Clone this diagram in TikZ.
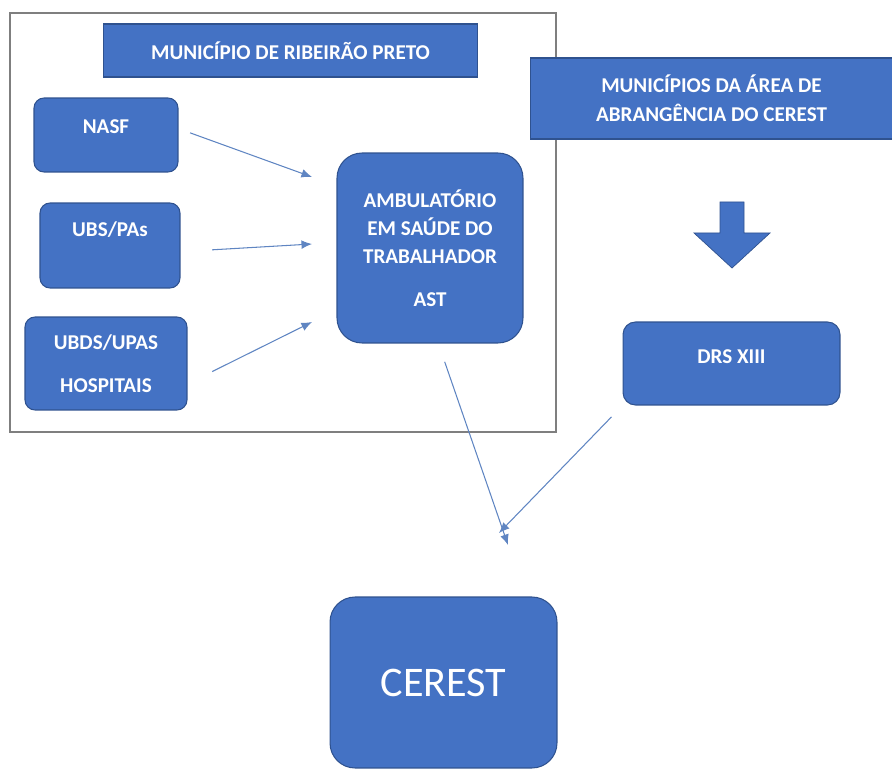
\documentclass[tikz,border=0pt]{standalone}
\usepackage{fontspec}
\setmainfont{Carlito}
\usetikzlibrary{arrows.meta}
\definecolor{boxblue}{HTML}{4472C4}
\definecolor{boxedge}{HTML}{2F528F}
\definecolor{linkblue}{HTML}{5F85C2}
\definecolor{framegray}{HTML}{7F7F7F}

\begin{document}
\begin{tikzpicture}[x=0.02cm,y=-0.02cm,>={Latex[length=6pt,width=5pt]},
  box/.style={draw=boxedge,line width=0.6pt,fill=boxblue,text=white,align=center,
    rounded corners=#1,font=\bfseries\fontsize{12}{16}\selectfont},
  box/.default=0.2cm,
  banner/.style={draw=boxedge,line width=0.6pt,fill=boxblue,text=white,align=center,
    font=\bfseries\fontsize{12}{16.5}\selectfont},
  flow/.style={->,draw=linkblue,line width=0.6pt}]
\useasboundingbox (0,0) rectangle (892,770);

\draw[framegray,line width=0.8pt] (10,13) rectangle (556,432);

\node[banner,minimum width=7.5cm,minimum height=1.06cm] (munrp) at (290.5,50.5) {MUNICÍPIO DE RIBEIRÃO PRETO};
\node[banner,minimum width=7.26cm,minimum height=1.62cm] (region) at (711.5,98.5) {MUNICÍPIOS DA ÁREA DE\\ABRANGÊNCIA DO CEREST};

\node[box,minimum width=2.88cm,minimum height=1.48cm,text height=7.7pt,text depth=9.3pt] (nasf) at (106,135) {NASF};
\node[box,minimum width=2.8cm,minimum height=1.7cm,text height=7.7pt,text depth=17.6pt] (ubs) at (110,245.5) {UBS/PAs};
\node[box,minimum width=3.24cm,minimum height=1.86cm,font=\bfseries\fontsize{12}{24.5}\selectfont] (ubds) at (106,363.5) {UBDS/UPAS\\HOSPITAIS};
\node[box=0.5cm,minimum width=3.72cm,minimum height=3.8cm] (ast) at (430,248) {AMBULATÓRIO\\EM SAÚDE DO\\TRABALHADOR\\[8.5pt]AST};
\node[box=0.25cm,minimum width=4.34cm,minimum height=1.66cm,text height=7.7pt,text depth=7.7pt] (drs) at (731.5,363.5) {DRS XIII};
\node[box=0.5cm,minimum width=4.54cm,minimum height=3.42cm,font=\fontsize{24}{28}\selectfont] (cerest) at (443.5,682.5) {CEREST};

\filldraw[fill=boxblue,draw=boxedge,line width=0.4pt] (720,202) -- (744,202) -- (744,233) -- (770,233) -- (732,268) -- (694,233) -- (720,233) -- cycle;

\coordinate (tipnasf) at (312,177);
\coordinate (tipubs) at (312,244);
\coordinate (tipubds) at (312,322);
\coordinate (tipast) at (508,545);
\coordinate (tipdrs) at (499,533);

\draw[flow,shorten <=7pt] (nasf.5) -- (tipnasf);
\draw[flow,shorten <=18pt] (ubs.-5) -- (tipubs);
\draw[flow,shorten <=15.7pt] (ubds.-14) -- (tipubds);
\draw[flow,shorten <=11pt] (ast.-85) -- (tipast);
\draw[flow,shorten <=9pt] (drs.south west) -- (tipdrs);
\end{tikzpicture}
\end{document}
